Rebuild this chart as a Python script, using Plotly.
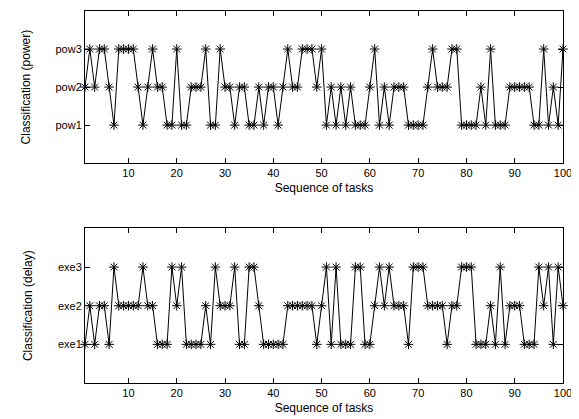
import plotly.graph_objects as go
from plotly.subplots import make_subplots

tasks = list(range(1, 101))

power_class = [2, 3, 2, 3, 3, 2, 1, 3, 3, 3, 3, 2, 1, 2, 3, 2, 2, 1, 1, 3,
               1, 1, 2, 2, 2, 3, 1, 1, 3, 2, 2, 1, 2, 2, 1, 1, 2, 1, 2, 2,
               1, 2, 3, 2, 2, 3, 3, 3, 2, 3, 1, 2, 1, 2, 1, 2, 1, 1, 1, 2,
               3, 1, 2, 1, 2, 2, 2, 1, 1, 1, 1, 2, 3, 2, 2, 2, 3, 3, 1, 1,
               1, 1, 2, 1, 3, 1, 1, 1, 2, 2, 2, 2, 2, 1, 1, 3, 1, 2, 1, 3]

delay_class = [1, 2, 1, 2, 2, 1, 3, 2, 2, 2, 2, 2, 3, 2, 2, 1, 1, 1, 3, 2,
               3, 1, 1, 1, 1, 2, 1, 3, 2, 2, 2, 3, 1, 1, 3, 3, 2, 1, 1, 1,
               1, 1, 2, 2, 2, 2, 2, 2, 1, 2, 3, 1, 3, 1, 1, 1, 3, 3, 1, 1,
               2, 3, 2, 3, 2, 2, 2, 1, 3, 3, 3, 2, 2, 2, 2, 1, 2, 2, 3, 3,
               3, 1, 1, 1, 2, 1, 3, 1, 2, 2, 2, 1, 1, 1, 3, 2, 3, 1, 3, 2]

power_labels = ["pow1", "pow2", "pow3"]
delay_labels = ["exe1", "exe2", "exe3"]
x_ticks = [10, 20, 30, 40, 50, 60, 70, 80, 90, 100]
x_title = "Sequence of tasks"
y_titles = ["Classification (power)", "Classification (delay)"]

fig = make_subplots(rows=2, cols=1, vertical_spacing=0.17)

for row, series in ((1, power_class), (2, delay_class)):
    fig.add_trace(go.Scatter(
        x=tasks, y=series, mode="lines+markers",
        line=dict(color="black", width=1),
        marker=dict(symbol="asterisk-open", size=8, color="black",
                    line=dict(color="black", width=1)),
        showlegend=False, cliponaxis=False), row=row, col=1)

font = dict(family="Liberation Sans, Arial, sans-serif", size=11, color="black")
title_font = dict(family=font["family"], size=12, color="black")
axis_common = dict(showline=True, linecolor="black", linewidth=1, mirror="allticks",
                   ticks="inside", ticklen=5, tickcolor="black", showgrid=False,
                   zeroline=False, tickfont=font, automargin=False)

for row, labels in ((1, power_labels), (2, delay_labels)):
    fig.update_xaxes(range=[1, 100], tickvals=x_ticks,
                     title=dict(text=x_title, font=title_font, standoff=5),
                     row=row, col=1, **axis_common)
    fig.update_yaxes(range=[0, 4], tickvals=[1, 2, 3], ticktext=labels,
                     title=dict(text=y_titles[row - 1], font=title_font, standoff=22),
                     row=row, col=1, **axis_common)

fig.update_layout(
    width=579, height=419,
    margin=dict(l=77, r=24, t=3, b=44),
    paper_bgcolor="white", plot_bgcolor="white",
    font=font,
    yaxis=dict(domain=[0.591, 1.0]),
    yaxis2=dict(domain=[0.0, 0.4155]),
)

fig.write_html("out.html")
